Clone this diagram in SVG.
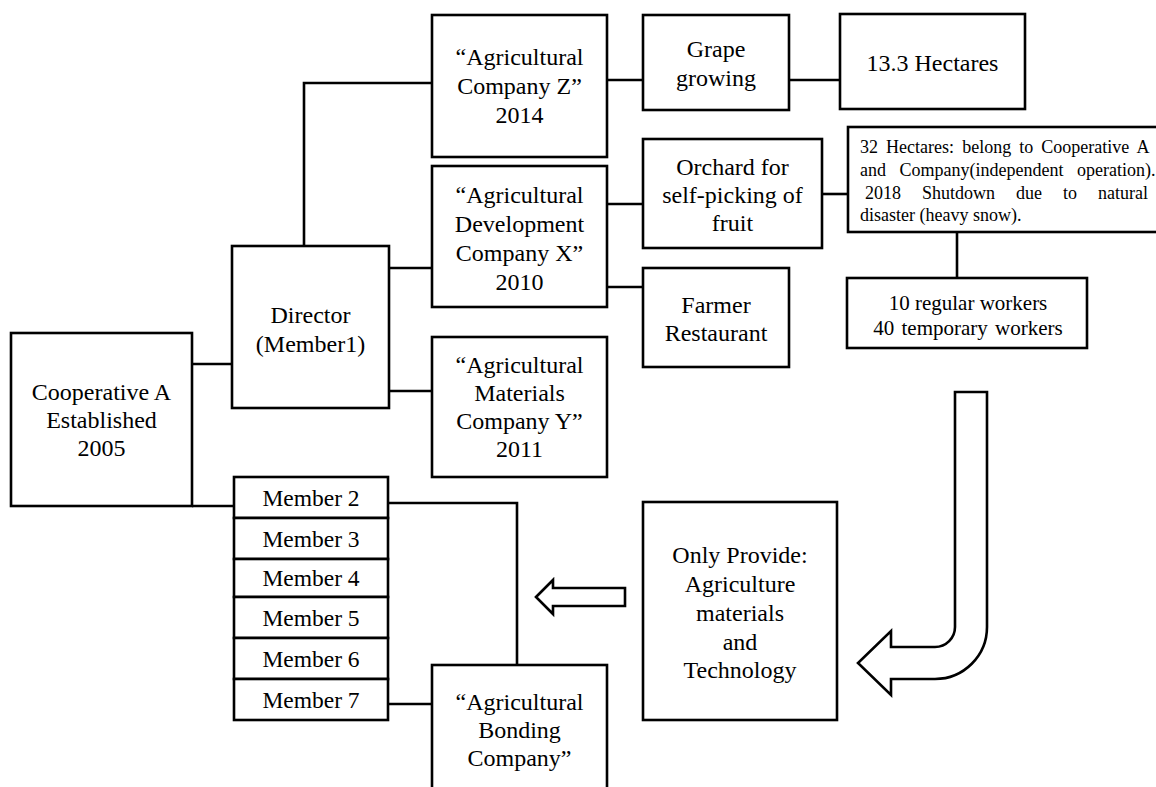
<svg xmlns="http://www.w3.org/2000/svg" width="1156" height="787" viewBox="0 0 1156 787">
<style>
.b{fill:#fff;stroke:#000;stroke-width:2.6}
.c{fill:none;stroke:#000;stroke-width:2.6}
text{font-family:"Liberation Serif","Times New Roman",serif;font-size:24px;fill:#000;text-anchor:middle}
.m{font-size:23.5px}
.s{font-size:18px;text-anchor:start}
.w{font-size:21px}
</style>
<rect width="1156" height="787" fill="#fff"/>
<g id="connectors">
<path class="c" d="M192,364H232"/>
<path class="c" d="M192,506H234"/>
<path class="c" d="M304,246V83H432"/>
<path class="c" d="M389,268H432"/>
<path class="c" d="M389,391H432"/>
<path class="c" d="M607,80H643"/>
<path class="c" d="M789,80H840"/>
<path class="c" d="M607,204H643"/>
<path class="c" d="M607,287H643"/>
<path class="c" d="M822,194H848"/>
<path class="c" d="M957,232V278"/>
<path class="c" d="M388,503H517V665"/>
<path class="c" d="M388,704H432"/>
</g>
<g id="cooperative">
<rect class="b" x="11" y="333" width="181" height="173"/>
<text x="101.5" y="400">Cooperative A</text>
<text x="101.5" y="428">Established</text>
<text x="101.5" y="456">2005</text>
</g>
<g id="director">
<rect class="b" x="232" y="246" width="157" height="162"/>
<text x="310.5" y="323">Director</text>
<text x="310.5" y="352">(Member1)</text>
</g>
<g id="companyZ">
<rect class="b" x="432" y="15" width="175" height="142"/>
<text x="519.5" y="65">“Agricultural</text>
<text x="519.5" y="94">Company Z”</text>
<text x="519.5" y="123">2014</text>
</g>
<g id="companyX">
<rect class="b" x="432" y="166" width="175" height="141"/>
<text x="519.5" y="203">“Agricultural</text>
<text x="519.5" y="232">Development</text>
<text x="519.5" y="261">Company X”</text>
<text x="519.5" y="290">2010</text>
</g>
<g id="companyY">
<rect class="b" x="432" y="337" width="175" height="140"/>
<text x="519.5" y="373">“Agricultural</text>
<text x="519.5" y="401">Materials</text>
<text x="519.5" y="429">Company Y”</text>
<text x="519.5" y="457">2011</text>
</g>
<g id="grape">
<rect class="b" x="643" y="15" width="146" height="95"/>
<text x="716" y="57">Grape</text>
<text x="716" y="86">growing</text>
</g>
<g id="hectares13">
<rect class="b" x="840" y="14" width="185" height="95"/>
<text x="932.5" y="71">13.3 Hectares</text>
</g>
<g id="orchard">
<rect class="b" x="643" y="139" width="179" height="109"/>
<text x="732.5" y="175">Orchard for</text>
<text x="732.5" y="203">self-picking of</text>
<text x="732.5" y="231">fruit</text>
</g>
<g id="hectares32">
<rect class="b" x="848" y="127" width="320" height="105"/>
<text class="s" x="860" y="153" word-spacing="3.6">32 Hectares: belong to Cooperative A</text>
<text class="s" x="860" y="176" word-spacing="9">and Company(independent operation).</text>
<text class="s" x="865" y="199" word-spacing="16.5">2018 Shutdown due to natural</text>
<text class="s" x="860" y="221">disaster (heavy snow).</text>
</g>
<g id="workers">
<rect class="b" x="847" y="278" width="240" height="70"/>
<text class="w" x="968" y="310">10 regular workers</text>
<text class="w" x="968" y="335" word-spacing="2">40 temporary workers</text>
</g>
<g id="farmer">
<rect class="b" x="643" y="268" width="146" height="99"/>
<text x="716" y="313">Farmer</text>
<text x="716" y="341">Restaurant</text>
</g>
<g id="members">
<rect class="b" x="234" y="477" width="154" height="41"/>
<text class="m" x="311" y="505.5">Member 2</text>
<rect class="b" x="234" y="518" width="154" height="41"/>
<text class="m" x="311" y="546.5">Member 3</text>
<rect class="b" x="234" y="559" width="154" height="38"/>
<text class="m" x="311" y="586">Member 4</text>
<rect class="b" x="234" y="597" width="154" height="41"/>
<text class="m" x="311" y="625.5">Member 5</text>
<rect class="b" x="234" y="638" width="154" height="41"/>
<text class="m" x="311" y="666.5">Member 6</text>
<rect class="b" x="234" y="679" width="154" height="41"/>
<text class="m" x="311" y="707.5">Member 7</text>
</g>
<g id="bonding">
<rect class="b" x="432" y="665" width="175" height="140"/>
<text x="519.5" y="710">“Agricultural</text>
<text x="519.5" y="738">Bonding</text>
<text x="519.5" y="766">Company”</text>
</g>
<g id="provide">
<rect class="b" x="643" y="502" width="194" height="218"/>
<text x="740" y="563">Only Provide:</text>
<text x="740" y="592">Agriculture</text>
<text x="740" y="621">materials</text>
<text x="740" y="650">and</text>
<text x="740" y="678">Technology</text>
</g>
<g id="arrows">
<path class="b" d="M955,392H987V627A52,52 0 0 1 935,679H891V695L858,663L891,631V647H935A20,20 0 0 0 955,627Z"/>
<path class="b" d="M536,597L553,580V588H625V606H553V614Z"/>
</g>
</svg>
